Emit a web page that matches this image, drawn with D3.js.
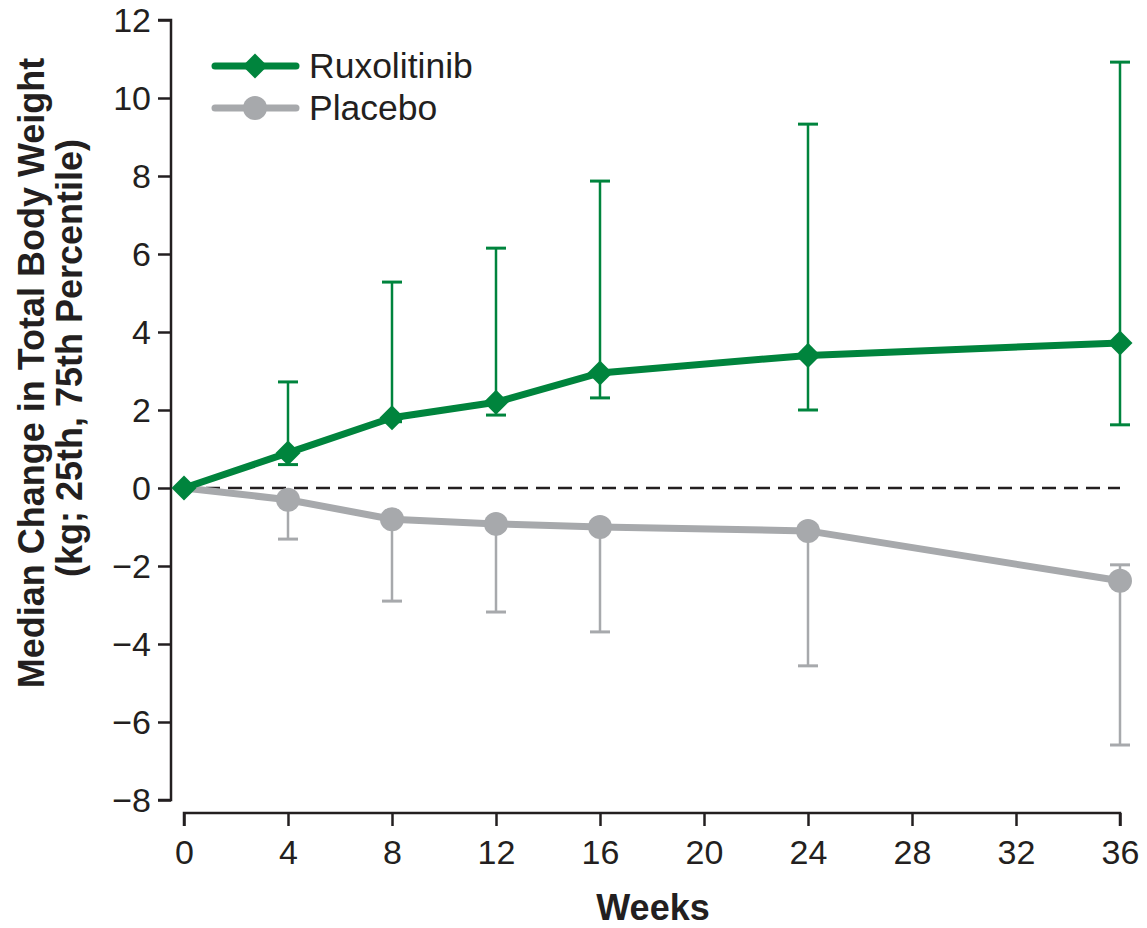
<!DOCTYPE html>
<html>
<head>
<meta charset="utf-8">
<script src="https://cdn.jsdelivr.net/npm/d3@7"></script>
<style>
  html, body { margin: 0; padding: 0; background: #fff; }
  svg text { font-family: "Liberation Sans", Arial, Helvetica, sans-serif; fill: #231f20; }
</style>
</head>
<body>
<svg id="chart" width="1147" height="928"></svg>
<script>
// Weeks of assessment
const weeks = [0, 4, 8, 12, 16, 24, 36];

// Ruxolitinib: median and 25th/75th percentile change in weight (kg)
const ruxMedian = [0, 0.9, 1.8, 2.2, 2.95, 3.4, 3.72];
const ruxP25    = [0, 0.6, 1.7, 1.87, 2.31, 2.0, 1.62];
const ruxP75    = [0, 2.72, 5.28, 6.15, 7.87, 9.33, 10.92];

// Placebo: median and 25th/75th percentile change in weight (kg)
const plaMedian = [0, -0.3, -0.8, -0.92, -1.0, -1.1, -2.38];
const plaP25    = [0, -1.31, -2.9, -3.18, -3.69, -4.56, -6.59];
const plaP75    = [0, -0.3, -0.8, -0.92, -1.0, -1.1, -1.97];

const xTicks = [0, 4, 8, 12, 16, 20, 24, 28, 32, 36];
const yTicks = [-8, -6, -4, -2, 0, 2, 4, 6, 8, 10, 12];

const seriesNames = ["Ruxolitinib", "Placebo"];
const GREEN = "#00843d";
const GRAY = "#a7a9ac";
const INK = "#231f20";

const svg = d3.select("#chart");

const x = d3.scaleLinear().domain([0, 36]).range([184, 1120]);
const y = d3.scaleLinear().domain([-8, 12]).range([800, 20]);

// Y axis
const yAxis = svg.append("g")
  .attr("transform", "translate(171,0)")
  .call(d3.axisLeft(y).tickValues(yTicks).tickSize(13).tickPadding(7)
    .tickFormat(d => d < 0 ? "\u2212" + Math.abs(d) : String(d)));
yAxis.select(".domain").attr("d", "M-13,20H0V800H-13").attr("stroke", INK).attr("stroke-width", 2.5);
yAxis.selectAll(".tick line").attr("stroke", INK).attr("stroke-width", 2.5);
yAxis.selectAll(".tick text").attr("font-size", 34).attr("fill", INK).attr("dy", "0.35em");

// X axis
const xAxis = svg.append("g")
  .attr("transform", "translate(0,813)")
  .call(d3.axisBottom(x).tickValues(xTicks).tickSize(13).tickPadding(14));
xAxis.select(".domain").attr("d", "M184,13V0H1120V13").attr("stroke", INK).attr("stroke-width", 2.5);
xAxis.selectAll(".tick line").attr("stroke", INK).attr("stroke-width", 2.5);
xAxis.selectAll(".tick text").attr("font-size", 34).attr("fill", INK);

// Axis titles
svg.append("text")
  .attr("x", 653).attr("y", 920)
  .attr("text-anchor", "middle")
  .attr("font-size", 36).attr("font-weight", "bold")
  .text("Weeks");

const yTitle = svg.append("text")
  .attr("transform", "translate(0,373) rotate(-90)")
  .attr("text-anchor", "middle")
  .attr("font-size", 36).attr("font-weight", "bold");
yTitle.append("tspan").attr("x", 0).attr("y", 44).text("Median Change in Total Body Weight");
yTitle.append("tspan").attr("x", 15).attr("y", 82).text("(kg; 25th, 75th Percentile)");

// Reference line at zero
svg.append("line")
  .attr("x1", x(0)).attr("x2", x(36))
  .attr("y1", y(0)).attr("y2", y(0))
  .attr("stroke", INK).attr("stroke-width", 2.5)
  .attr("stroke-dasharray", "14,8");

function rows(med, lo, hi) {
  return weeks.map((w, i) => ({ w, m: med[i], lo: lo[i], hi: hi[i] }));
}

function drawErrorBars(data, color) {
  const g = svg.append("g").attr("stroke", color).attr("stroke-width", 2.5);
  const bars = data.filter(d => d.w > 0);
  g.selectAll("line.v").data(bars).join("line")
    .attr("x1", d => x(d.w)).attr("x2", d => x(d.w))
    .attr("y1", d => y(d.lo)).attr("y2", d => y(d.hi));
  const caps = [];
  bars.forEach(d => {
    if (d.hi !== d.m) caps.push({ w: d.w, v: d.hi });
    if (d.lo !== d.m) caps.push({ w: d.w, v: d.lo });
  });
  g.selectAll("line.c").data(caps).join("line")
    .attr("x1", d => x(d.w) - 10).attr("x2", d => x(d.w) + 10)
    .attr("y1", d => y(d.v)).attr("y2", d => y(d.v))
    .attr("stroke-width", 3);
}

const rux = rows(ruxMedian, ruxP25, ruxP75);
const pla = rows(plaMedian, plaP25, plaP75);

drawErrorBars(pla, GRAY);
drawErrorBars(rux, GREEN);

const line = d3.line().x(d => x(d.w)).y(d => y(d.m));

// Placebo line and markers
svg.append("path").datum(pla)
  .attr("d", line).attr("fill", "none")
  .attr("stroke", GRAY).attr("stroke-width", 7).attr("stroke-linejoin", "round");
svg.append("g").selectAll("circle").data(pla.filter(d => d.w > 0)).join("circle")
  .attr("cx", d => x(d.w)).attr("cy", d => y(d.m)).attr("r", 12)
  .attr("fill", GRAY);

// Ruxolitinib line and markers
const diamond = d3.symbol().type(d3.symbolDiamond2).size(400);
svg.append("path").datum(rux)
  .attr("d", line).attr("fill", "none")
  .attr("stroke", GREEN).attr("stroke-width", 7).attr("stroke-linejoin", "round");
svg.append("g").selectAll("path").data(rux).join("path")
  .attr("transform", d => `translate(${x(d.w)},${y(d.m)})`)
  .attr("d", diamond)
  .attr("fill", GREEN);

// Legend
const legend = svg.append("g");
const legendItems = [
  { name: seriesNames[0], color: GREEN, y: 66, shape: "diamond" },
  { name: seriesNames[1], color: GRAY, y: 108, shape: "circle" }
];
legendItems.forEach(item => {
  legend.append("line")
    .attr("x1", 215).attr("x2", 296).attr("y1", item.y).attr("y2", item.y)
    .attr("stroke", item.color).attr("stroke-width", 7).attr("stroke-linecap", "round");
  if (item.shape === "diamond") {
    legend.append("path")
      .attr("transform", `translate(255,${item.y})`)
      .attr("d", diamond).attr("fill", item.color);
  } else {
    legend.append("circle")
      .attr("cx", 255).attr("cy", item.y).attr("r", 12).attr("fill", item.color);
  }
  legend.append("text")
    .attr("x", 309).attr("y", item.y + 12)
    .attr("font-size", 35.5)
    .text(item.name);
});
</script>
</body>
</html>
